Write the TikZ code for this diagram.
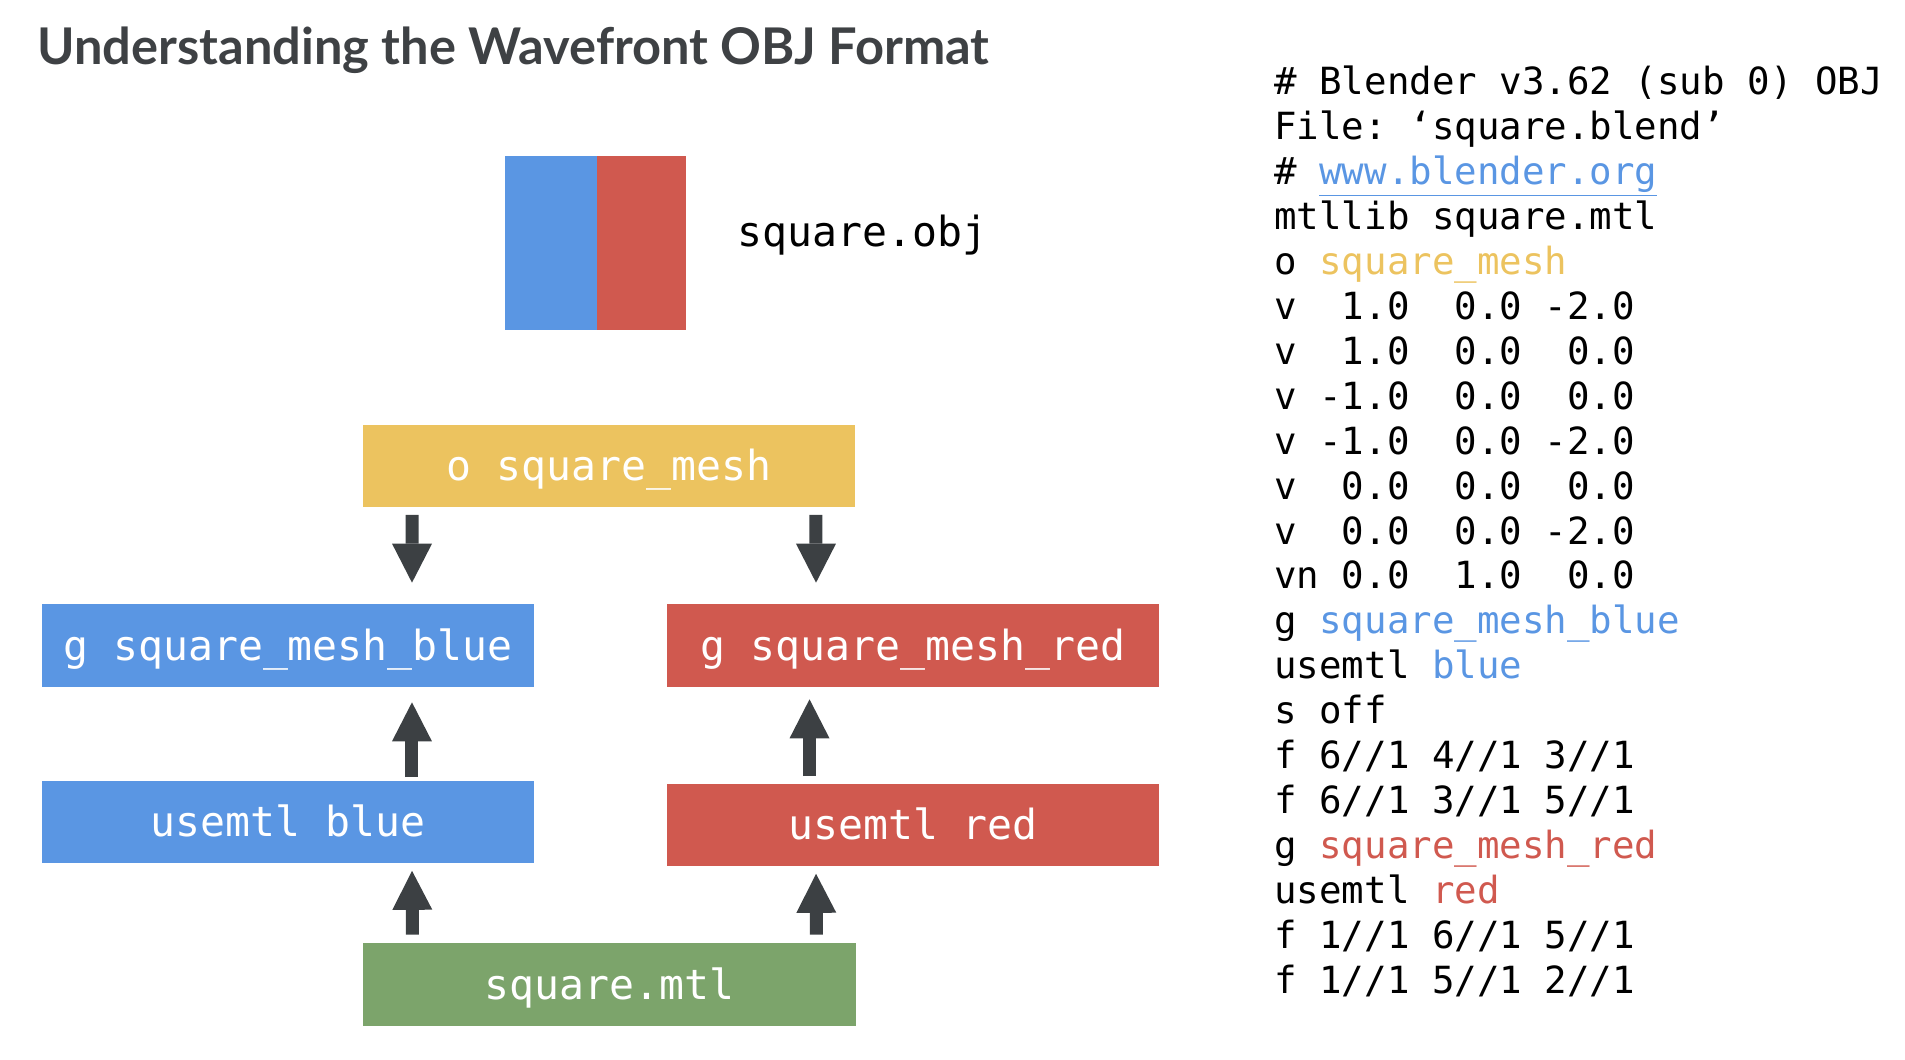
\documentclass[tikz,border=0pt]{standalone}
\usepackage{fontspec}
\setmainfont{Lato}
\setmonofont{DejaVu Sans Mono}
\usetikzlibrary{arrows.meta}
\definecolor{objblue}{HTML}{5A96E3}
\definecolor{objred}{HTML}{D0594F}
\definecolor{objyellow}{HTML}{ECC35F}
\definecolor{objgreen}{HTML}{7CA46B}
\definecolor{arrowgray}{HTML}{3C4043}
\definecolor{titlegray}{HTML}{3E4144}

\begin{document}
\begin{tikzpicture}[x=0.02cm, y=-0.02cm]
\tikzset{
  block/.style={minimum width=9.86cm, minimum height=1.66cm, inner sep=0pt, text=white,
    text height=18.9pt, text depth=1.9pt, font=\ttfamily\fontsize{23.6}{28}\selectfont},
  codeline/.style={anchor=base west, inner sep=0pt, font=\ttfamily\fontsize{21.3}{25.5}\selectfont},
  flow/.style={draw=arrowgray, line width=7.4pt,
    -{Triangle[length=0.78cm, width=0.8cm, line width=0pt]}}
}
\useasboundingbox (0,0) rectangle (1905,1060);
\node[anchor=base west, inner sep=0pt, text=titlegray, font=\bfseries\fontsize{28.8}{34}\selectfont] (title) at (37,65) {Understanding the Wavefront OBJ Format};

\node[fill=objred, minimum width=1.8cm, minimum height=3.5cm, inner sep=0pt] (sqred) at (641,243) {};
\node[fill=objblue, minimum width=1.84cm, minimum height=3.5cm, inner sep=0pt, anchor=east] (sqblue) at ([xshift=0.04cm]sqred.west) {};
\node[anchor=base west, inner sep=0pt, font=\ttfamily\fontsize{23.6}{28}\selectfont] (objname) at (737,247) {square.obj};

\node[block, fill=objyellow] (osq) at (609,466) {o square\_mesh};
\node[block, fill=objblue] (gblue) at (288,645.5) {g square\_mesh\_blue};
\node[block, fill=objred] (gred) at (913,645.5) {g square\_mesh\_red};
\node[block, fill=objblue] (ublue) at (288,822) {usemtl blue};
\node[block, fill=objred] (ured) at (913,825) {usemtl red};
\node[block, fill=objgreen] (mtl) at (609.5,984.5) {square.mtl};

\draw[flow, shorten <=0.14cm, shorten >=0.42cm] ([xshift=-3.94cm]osq.south) -- ([xshift=2.48cm]gblue.north);
\draw[flow, shorten <=0.14cm, shorten >=0.42cm] ([xshift=4.14cm]osq.south) -- ([xshift=-1.94cm]gred.north);
\draw[flow, shorten <=0.06cm, shorten >=0.3cm] ([xshift=2.48cm]ublue.north) -- ([xshift=2.48cm]gblue.south);
\draw[flow, shorten <=0.14cm, shorten >=0.24cm] ([xshift=-2.07cm]ured.north) -- ([xshift=-2.07cm]gred.south);
\draw[flow, shorten <=0.16cm, shorten >=0.14cm] ([xshift=-3.94cm]mtl.north) -- ([xshift=2.48cm]ublue.south);
\draw[flow, shorten <=0.16cm, shorten >=0.14cm] ([xshift=4.14cm]mtl.north) -- ([xshift=-1.94cm]ured.south);

\foreach \txt [count=\i] in {
  {\#~Blender~v3.62~(sub~0)~OBJ},
  {File:~‘square.blend’},
  {\#~\textcolor{objblue}{\underline{www.blender.org}}},
  {mtllib~square.mtl},
  {o~\textcolor{objyellow}{square\_mesh}},
  {v~~1.0~~0.0~-2.0},
  {v~~1.0~~0.0~~0.0},
  {v~-1.0~~0.0~~0.0},
  {v~-1.0~~0.0~-2.0},
  {v~~0.0~~0.0~~0.0},
  {v~~0.0~~0.0~-2.0},
  {vn~0.0~~1.0~~0.0},
  {g~\textcolor{objblue}{square\_mesh\_blue}},
  {usemtl~\textcolor{objblue}{blue}},
  {s~off},
  {f~6//1~4//1~3//1},
  {f~6//1~3//1~5//1},
  {g~\textcolor{objred}{square\_mesh\_red}},
  {usemtl~\textcolor{objred}{red}},
  {f~1//1~6//1~5//1},
  {f~1//1~5//1~2//1}}
  \node[codeline] (code\i) at (1274,{95+(\i-1)*44.9}) {\txt};
\end{tikzpicture}
\end{document}
